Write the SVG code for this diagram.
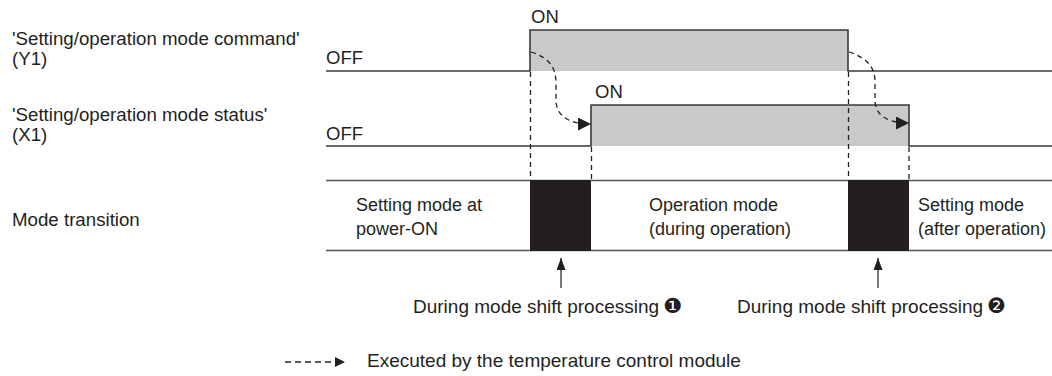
<svg xmlns="http://www.w3.org/2000/svg" width="1052" height="376" viewBox="0 0 1052 376">
<style>
text{font-family:"Liberation Sans",Arial,sans-serif;font-size:18px;fill:#231f20}
.lbl{font-size:18.7px}
.sw{font-size:18.5px}
.note{font-size:19px}
.sig{fill:none;stroke:#3a3a3a;stroke-width:1.6}
.grey{fill:#c8c9ca;stroke:none}
.band{stroke:#555;stroke-width:1.6;fill:none}
.vdash{stroke:#231f20;stroke-width:1.3;stroke-dasharray:5,4;fill:none}
.cdash{stroke:#231f20;stroke-width:1.3;stroke-dasharray:5,4;fill:none}
.ldash{stroke:#231f20;stroke-width:1.3;stroke-dasharray:6,4;fill:none}
.blk{fill:#231f20}
.ptr{stroke:#231f20;stroke-width:1.2;fill:none}
.num{font-family:"DejaVu Sans",sans-serif;font-size:21px;font-style:italic}
</style>
<defs>
<marker id="tri" markerUnits="userSpaceOnUse" markerWidth="13" markerHeight="13" refX="13" refY="6.5" orient="auto" viewBox="0 0 13 13">
<path d="M0,0 L13,6.5 L0,13 z" fill="#231f20"/>
</marker>
<marker id="tri-s" markerUnits="userSpaceOnUse" markerWidth="10" markerHeight="10" refX="10" refY="5" orient="auto" viewBox="0 0 10 10">
<path d="M0,0 L10,5 L0,10 z" fill="#231f20"/>
</marker>
<marker id="up" markerUnits="userSpaceOnUse" markerWidth="12" markerHeight="9" refX="12" refY="4.5" orient="auto" viewBox="0 0 12 9">
<path d="M0,0 L12,4.5 L0,9 z" fill="#231f20"/>
</marker>
</defs>

<g id="labels">
<text class="lbl" x="12" y="45">'Setting/operation mode command'</text>
<text class="lbl" x="12" y="65">(Y1)</text>
<text class="lbl" x="12" y="121">'Setting/operation mode status'</text>
<text class="lbl" x="12" y="141">(X1)</text>
<text class="lbl" x="12" y="226">Mode transition</text>
</g>

<g id="y1-signal">
<rect class="grey" x="530" y="30" width="318" height="41"/>
<path class="sig" d="M326,71 H530 V30 H848 V71 H1052"/>
<text class="sw" x="326" y="64">OFF</text>
<text class="sw" x="531" y="23">ON</text>
</g>

<g id="x1-signal">
<rect class="grey" x="591" y="105" width="318" height="41"/>
<path class="sig" d="M326,146 H591 V105 H909 V146 H1052"/>
<text class="sw" x="326" y="140">OFF</text>
<text class="sw" x="595" y="98">ON</text>
</g>

<g id="mode-band">
<path class="band" d="M326,180.5 H1052 M326,250.5 H1052"/>
<rect class="blk" x="530" y="180" width="61" height="71"/>
<rect class="blk" x="848" y="180" width="61" height="71"/>
<text x="356" y="211">Setting mode at</text>
<text x="356" y="235">power-ON</text>
<text x="649" y="211">Operation mode</text>
<text x="649" y="235">(during operation)</text>
<text x="918" y="211">Setting mode</text>
<text x="918" y="235">(after operation)</text>
</g>

<g id="connectors">
<path class="vdash" d="M530.5,72 V180 M591.5,147 V180 M848.5,72 V180 M909,147 V180"/>
<path class="cdash" d="M531,52 C550,58 556,68 556,84 L556,100 C556,114 566,124 591,124" marker-end="url(#tri)"/>
<path class="cdash" d="M849,52 C868,58 875,68 875,82 L875,100 C875,113 884,123 909,123" marker-end="url(#tri)"/>
<path class="ptr" d="M561,288 V258" marker-end="url(#up)"/>
<path class="ptr" d="M878,288 V258" marker-end="url(#up)"/>
</g>

<g id="notes">
<text class="note" x="413" y="313">During mode shift processing<tspan class="num" x="663" y="313">❶</tspan></text>
<text class="note" x="737" y="313">During mode shift processing<tspan class="num" x="987" y="313">❷</tspan></text>
</g>

<g id="legend">
<path class="ldash" d="M285,362 H345" marker-end="url(#tri-s)"/>
<text class="note" x="367" y="367">Executed by the temperature control module</text>
</g>
</svg>
